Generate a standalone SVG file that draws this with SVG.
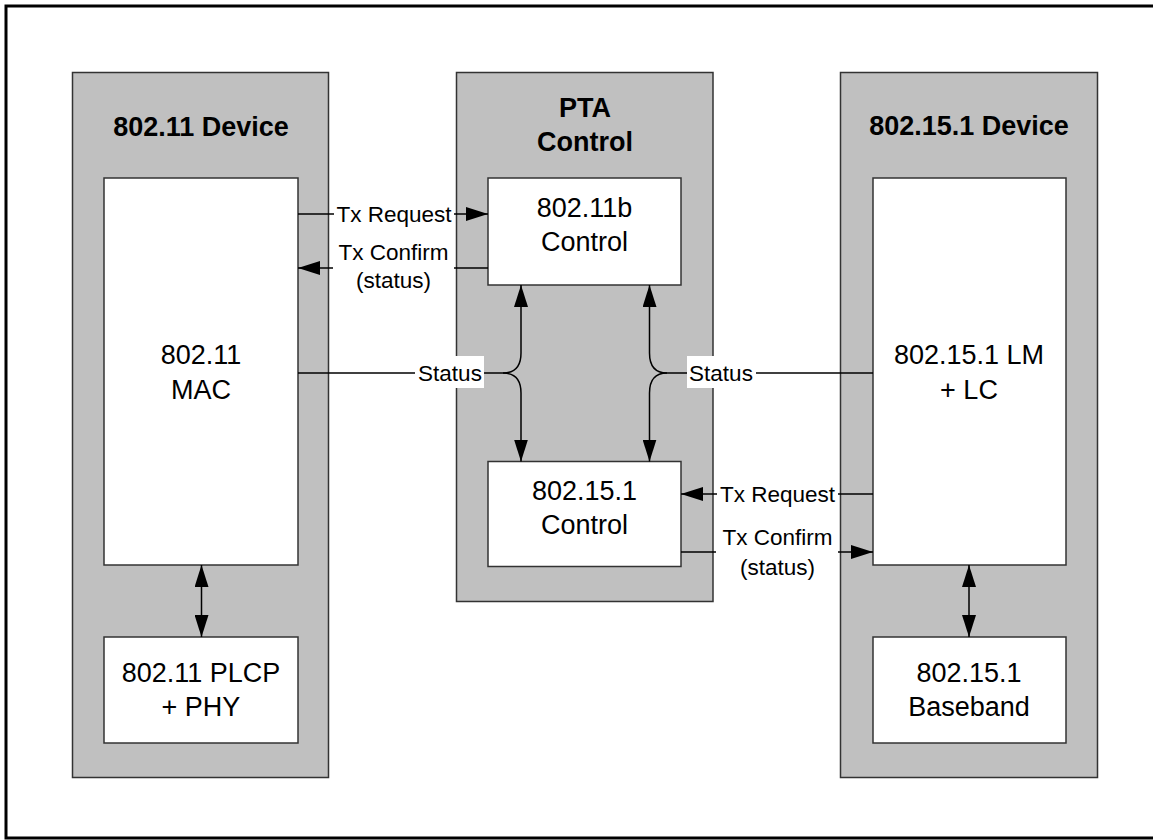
<svg xmlns="http://www.w3.org/2000/svg" width="1153" height="840" viewBox="0 0 1153 840">
<style>
.panel{fill:#C0C0C0;stroke:#333;stroke-width:1.5}
.box{fill:#FFFFFF;stroke:#333;stroke-width:1.5}
.title{font-family:"Liberation Sans",Arial,sans-serif;font-weight:bold;font-size:27px;fill:#000;text-anchor:middle}
.txt{font-family:"Liberation Sans",Arial,sans-serif;font-size:27px;fill:#000;text-anchor:middle}
.lbl{font-family:"Liberation Sans",Arial,sans-serif;font-size:22.5px;fill:#000;text-anchor:middle}
.ln{fill:none;stroke:#000;stroke-width:1.5}
.bg{fill:#FFFFFF;stroke:none}
</style>
<defs>
<marker id="ah" viewBox="0 0 22 14" refX="22" refY="7" markerWidth="22" markerHeight="14" markerUnits="userSpaceOnUse" orient="auto-start-reverse">
<path d="M0,0 L22,7 L0,14 z" fill="#000"/>
</marker>
</defs>
<rect x="0" y="0" width="1153" height="840" fill="#FFFFFF"/>
<rect x="6" y="6" width="1160" height="832" fill="none" stroke="#000" stroke-width="3"/>

<g id="wifi-device">
<rect class="panel" x="72.5" y="72.5" width="256" height="705"/>
<text class="title" x="201" y="136">802.11 Device</text>
</g>
<g id="pta-control">
<rect class="panel" x="456.5" y="72.5" width="256.5" height="529"/>
<text class="title" x="585" y="117">PTA</text>
<text class="title" x="585" y="151">Control</text>
</g>
<g id="bt-device">
<rect class="panel" x="840.5" y="72.5" width="257" height="705"/>
<text class="title" x="969" y="135">802.15.1 Device</text>
</g>

<g id="wifi-mac">
<rect class="box" x="104" y="178" width="194" height="387"/>
<text class="txt" x="201" y="364">802.11</text>
<text class="txt" x="201" y="399">MAC</text>
</g>
<g id="wifi-phy">
<rect class="box" x="104" y="637" width="194" height="106"/>
<text class="txt" x="201" y="682">802.11 PLCP</text>
<text class="txt" x="201" y="716">+ PHY</text>
</g>
<g id="wifi-control">
<rect class="box" x="488" y="178" width="193" height="107"/>
<text class="txt" x="584.5" y="217">802.11b</text>
<text class="txt" x="584.5" y="251">Control</text>
</g>
<g id="bt-control">
<rect class="box" x="488" y="461.5" width="193" height="105"/>
<text class="txt" x="584.5" y="500">802.15.1</text>
<text class="txt" x="584.5" y="534">Control</text>
</g>
<g id="bt-lm">
<rect class="box" x="873" y="178" width="193" height="387"/>
<text class="txt" x="969" y="364">802.15.1 LM</text>
<text class="txt" x="969" y="399">+ LC</text>
</g>
<g id="bt-baseband">
<rect class="box" x="873" y="637" width="193" height="106"/>
<text class="txt" x="969" y="682">802.15.1</text>
<text class="txt" x="969" y="716">Baseband</text>
</g>

<g id="connectors">
<path class="ln" d="M298,214 H488" marker-end="url(#ah)"/>
<rect class="bg" x="334" y="202" width="120" height="24"/>
<text class="lbl" x="394" y="222">Tx Request</text>
<path class="ln" d="M488,268 H298" marker-end="url(#ah)"/>
<rect class="bg" x="333" y="240" width="121" height="56"/>
<text class="lbl" x="393.5" y="260">Tx Confirm</text>
<text class="lbl" x="393.5" y="288">(status)</text>
<path class="ln" d="M298,373 H503"/>
<path class="ln" d="M521,285 V353 Q521,373 503,373" marker-start="url(#ah)"/>
<path class="ln" d="M503,373 Q521,373 521,393 V461.5" marker-end="url(#ah)"/>
<rect class="bg" x="415" y="356" width="69" height="32"/>
<text class="lbl" x="450" y="381">Status</text>
<path class="ln" d="M873,373 H667"/>
<path class="ln" d="M649.5,285 V353 Q649.5,373 667,373" marker-start="url(#ah)"/>
<path class="ln" d="M667,373 Q649.5,373 649.5,393 V461.5" marker-end="url(#ah)"/>
<rect class="bg" x="687" y="356" width="69" height="32"/>
<text class="lbl" x="721" y="381">Status</text>
<path class="ln" d="M873,494 H681" marker-end="url(#ah)"/>
<rect class="bg" x="717" y="482" width="121" height="24"/>
<text class="lbl" x="777.5" y="502">Tx Request</text>
<path class="ln" d="M681,552 H873" marker-end="url(#ah)"/>
<rect class="bg" x="716" y="524" width="122" height="57"/>
<text class="lbl" x="777.5" y="545">Tx Confirm</text>
<text class="lbl" x="777.5" y="575">(status)</text>
<path class="ln" d="M201.5,565 V637" marker-start="url(#ah)" marker-end="url(#ah)"/>
<path class="ln" d="M969,565 V637" marker-start="url(#ah)" marker-end="url(#ah)"/>
</g>
</svg>
